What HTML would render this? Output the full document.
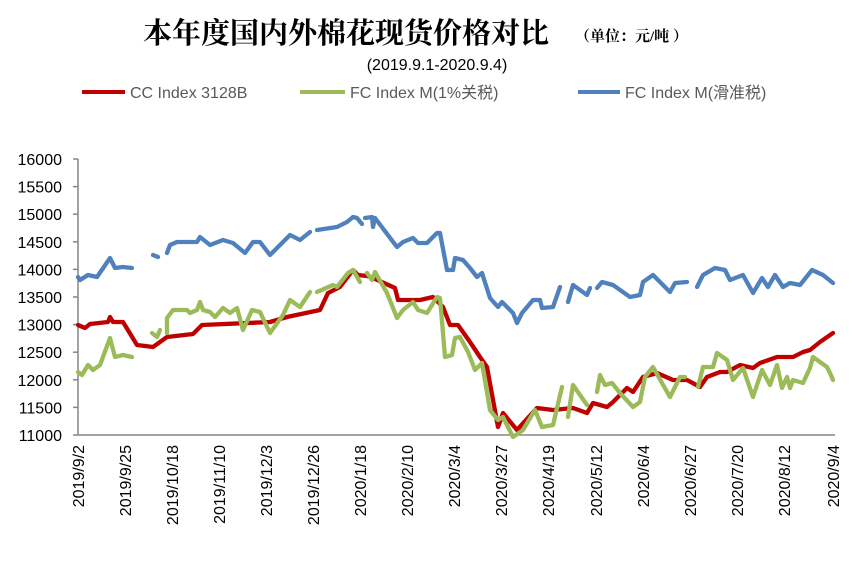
<!DOCTYPE html><html><head><meta charset="utf-8"><style>body{margin:0;background:#fff}svg{display:block}</style></head><body>
<svg width="865" height="569" xmlns="http://www.w3.org/2000/svg" font-family="Liberation Sans, Noto Sans CJK SC, sans-serif">
<text x="346" y="43" font-size="29" font-weight="bold" text-anchor="middle" font-family="Liberation Serif, Noto Serif CJK SC, serif">本年度国内外棉花现货价格对比</text>
<text x="575" y="41" font-size="15" font-weight="bold" font-family="Liberation Serif, Noto Serif CJK SC, serif">（单位：元/吨 ）</text>
<text x="437" y="70" font-size="16" text-anchor="middle">(2019.9.1-2020.9.4)</text>
<g font-size="16" fill="#595959">
<line x1="82" y1="92" x2="125" y2="92" stroke="#C00000" stroke-width="4"/><text x="130" y="98">CC Index 3128B</text>
<line x1="300" y1="92" x2="345" y2="92" stroke="#9BBB59" stroke-width="4"/><text x="350" y="98">FC Index M(1%关税)</text>
<line x1="578" y1="92" x2="620" y2="92" stroke="#4F81BD" stroke-width="4"/><text x="625" y="98">FC Index M(滑准税)</text>
</g>
<g stroke="#868686" stroke-width="1.5">
<line x1="78" y1="159" x2="78" y2="435"/><line x1="78" y1="435" x2="835" y2="435"/>
<line x1="73" y1="159" x2="78" y2="159"/><line x1="73" y1="186.6" x2="78" y2="186.6"/><line x1="73" y1="214.2" x2="78" y2="214.2"/><line x1="73" y1="241.8" x2="78" y2="241.8"/><line x1="73" y1="269.4" x2="78" y2="269.4"/><line x1="73" y1="297" x2="78" y2="297"/><line x1="73" y1="324.6" x2="78" y2="324.6"/><line x1="73" y1="352.2" x2="78" y2="352.2"/><line x1="73" y1="379.8" x2="78" y2="379.8"/><line x1="73" y1="407.4" x2="78" y2="407.4"/><line x1="73" y1="435" x2="78" y2="435"/>
</g>
<g font-size="16" text-anchor="end" fill="#000">
<text x="62" y="165">16000</text><text x="62" y="192.6">15500</text><text x="62" y="220.2">15000</text><text x="62" y="247.8">14500</text><text x="62" y="275.4">14000</text><text x="62" y="303">13500</text><text x="62" y="330.6">13000</text><text x="62" y="358.2">12500</text><text x="62" y="385.8">12000</text><text x="62" y="413.4">11500</text><text x="62" y="441">11000</text>
</g>
<g font-size="16" text-anchor="end" fill="#000">
<text transform="translate(84,445) rotate(-90)">2019/9/2</text>
<text transform="translate(131,445) rotate(-90)">2019/9/25</text>
<text transform="translate(178,445) rotate(-90)">2019/10/18</text>
<text transform="translate(225,445) rotate(-90)">2019/11/10</text>
<text transform="translate(272,445) rotate(-90)">2019/12/3</text>
<text transform="translate(319,445) rotate(-90)">2019/12/26</text>
<text transform="translate(366,445) rotate(-90)">2020/1/18</text>
<text transform="translate(413,445) rotate(-90)">2020/2/10</text>
<text transform="translate(460,445) rotate(-90)">2020/3/4</text>
<text transform="translate(507,445) rotate(-90)">2020/3/27</text>
<text transform="translate(554,445) rotate(-90)">2020/4/19</text>
<text transform="translate(602,445) rotate(-90)">2020/5/12</text>
<text transform="translate(649,445) rotate(-90)">2020/6/4</text>
<text transform="translate(696,445) rotate(-90)">2020/6/27</text>
<text transform="translate(743,445) rotate(-90)">2020/7/20</text>
<text transform="translate(790,445) rotate(-90)">2020/8/12</text>
<text transform="translate(839,445) rotate(-90)">2020/9/4</text>
</g>
<g fill="none" stroke-width="4.3" stroke-linejoin="round" stroke-linecap="round">
<g stroke="#4F81BD">
<polyline points="78,277 80,280 88,275 97,277 110,258 115,268 123,267 132,268"/>
<polyline points="153,255 158,257"/>
<polyline points="167,253 170,245 177,242 197,242 200,237 210,245 223,240 233,243 245,253 253,242 260,242 270,255 290,235 300,240 310,232"/>
<polyline points="317,230 337,227 347,222 353,217 357,218 362,224"/>
<polyline points="365,218 372,217 373,227 375,218 397,247 403,242 413,238 418,243 427,243 437,233 440,233 447,270 453,270 455,258 463,260 470,268 477,277 482,273 490,298 498,307 502,302 513,313 517,323 522,313 533,300 540,300 542,308 553,307 560,287"/>
<polyline points="568,302 573,285 587,295 590,288"/>
<polyline points="597,288 602,282 613,285 630,297 640,295 643,282 653,275 670,292 675,283 687,282"/>
<polyline points="697,287 703,275 715,268 725,270 730,280 743,275 753,293 762,278 768,287 775,275 783,287 790,283 800,285 812,270 823,275 833,283"/>
</g>
<g stroke="#C00000">
<polyline points="78,325 85,328 90,324 108,322 110,317 113,322 123,322 137,345 153,347 167,337 193,334 202,325 270,322 287,317 320,310 328,293 340,287 353,270 358,275 367,276 373,278 395,288 398,300 420,300 433,297 443,307 450,325 458,325 470,342 480,357 487,367 498,427 503,413 517,430 537,408 553,410 573,408 587,413 593,403 607,407 613,402 627,388 633,392 643,377 657,373 673,380 687,380 700,387 707,377 720,372 727,372 740,365 753,368 760,363 777,357 793,357 803,352 810,350 820,342 833,333"/>
</g>
<g stroke="#9BBB59">
<polyline points="78,372 82,375 88,365 93,370 100,365 110,338 115,357 123,355 132,357"/>
<polyline points="152,333 157,337 160,330"/>
<polyline points="167,333 167,318 173,310 187,310 190,313 197,310 200,302 203,310 210,312 215,317 223,308 230,313 237,308 243,330 252,310 260,312 270,333 283,315 290,300 300,307 310,292"/>
<polyline points="317,292 333,285 337,287 348,273 353,270 360,282"/>
<polyline points="367,273 372,280 375,272 387,293 397,318 403,310 413,302 418,310 427,313 437,297 440,298 445,357 452,355 455,338 460,337 468,352 475,370 482,363 490,410 498,420 503,417 513,437 523,430 535,410 542,427 553,425 562,387"/>
<polyline points="568,417 573,385 587,405"/>
<polyline points="597,392 600,375 605,385 612,383 620,393 633,407 640,402 645,377 653,367 662,383 670,397 680,377 685,377"/>
<polyline points="698,387 703,367 713,367 717,353 727,360 733,380 743,368 753,397 762,370 770,385 777,365 782,388 787,377 790,388 793,380 803,383 810,368 813,357 827,367 830,373 833,380"/>
</g>
</g>
</svg>
</body></html>
